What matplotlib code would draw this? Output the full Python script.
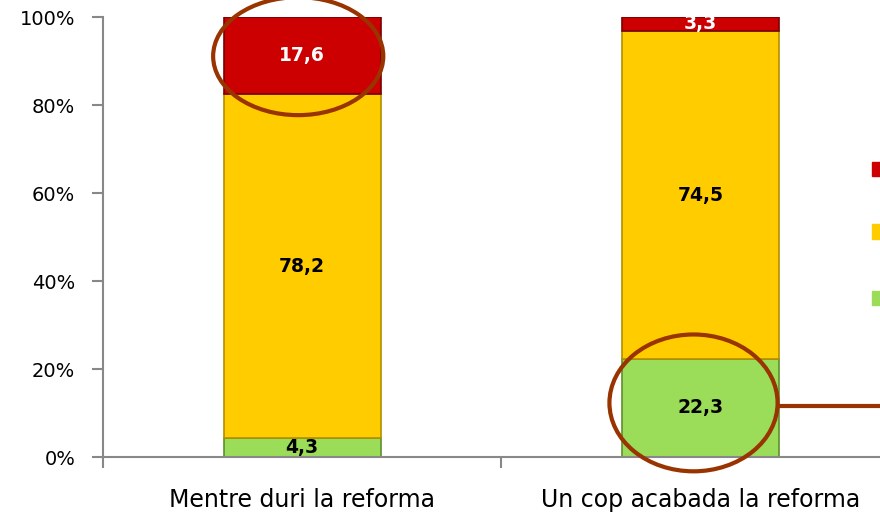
import matplotlib.pyplot as plt
from matplotlib.patches import Ellipse, Rectangle

categories = ["Mentre duri la reforma", "Un cop acabada la reforma"]
verd = [4.3, 22.3]
groc = [78.2, 74.5]
vermell = [17.6, 3.3]

fig = plt.figure(figsize=(8.8, 5.16), dpi=100)
ax = fig.add_axes([0.117, 0.1143, 0.883, 0.8527])

x = range(len(categories))
w = 0.395
series = [
	(verd, "#9BDC58", "#5E8F2E", "black"),
	(groc, "#FFCC00", "#B38F00", "black"),
	(vermell, "#CC0000", "#7A0000", "white"),
]
bottom = [0.0, 0.0]
for vals, col, edge, tcol in series:
	ax.bar(x, vals, w, bottom=bottom, color=col, edgecolor=edge, linewidth=1.2, zorder=2)
	for i, v in enumerate(vals):
		ax.text(i, bottom[i] + v / 2, f"{v:.1f}".replace(".", ","), ha="center", va="center",
				fontsize=13.5, fontweight="bold", color=tcol, zorder=4)
	bottom = [b + v for b, v in zip(bottom, vals)]

ax.set_xlim(-0.5, 1.45)
ax.set_ylim(0, 100)
ax.set_yticks(range(0, 101, 20))
ax.set_yticklabels([f"{t}%" for t in range(0, 101, 20)], fontsize=14)
ax.set_xticks(list(x))
ax.set_xticklabels(categories, fontsize=17)
ax.set_xticks([-0.5, 0.5], minor=True)
ax.tick_params(axis="x", which="major", length=0, pad=22)
ax.tick_params(axis="x", which="minor", length=8, color="#888888", width=1.5)
ax.tick_params(axis="y", length=8, color="#888888", width=1.5, pad=12)

for s in ["top", "right"]:
	ax.spines[s].set_visible(False)
for s in ["left", "bottom"]:
	ax.spines[s].set_color("#888888")
	ax.spines[s].set_linewidth(1.5)

# cercles de remarca
brown = "#993300"
ax.add_patch(Ellipse((-0.01, 91.1), 0.427, 26.8, fill=False, edgecolor=brown, linewidth=3, clip_on=False, zorder=5))
ax.add_patch(Ellipse((0.982, 12.3), 0.422, 31.1, fill=False, edgecolor=brown, linewidth=3, clip_on=False, zorder=5))
ax.plot([1.198, 1.5], [11.6, 11.6], color=brown, linewidth=3, clip_on=False, zorder=5)

# llegenda tallada a la dreta
for yb, col in [(0.659, "#CC0000"), (0.537, "#FFCC00"), (0.409, "#9BDC58")]:
	fig.patches.append(Rectangle((0.991, yb), 0.015, 0.028, transform=fig.transFigure, color=col))

fig.savefig("out.png", dpi=100)
